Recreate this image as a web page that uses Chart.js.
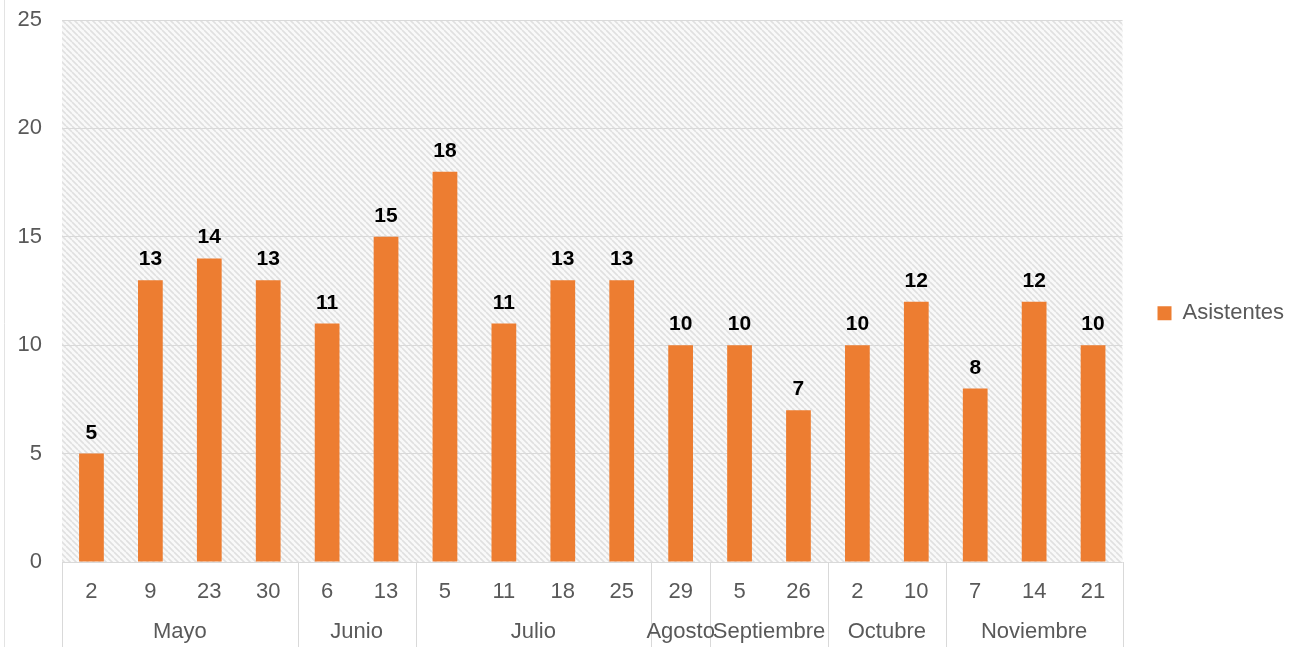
<!DOCTYPE html>
<html>
<head>
<meta charset="utf-8">
<script src="https://cdn.jsdelivr.net/npm/chart.js@4.4.1/dist/chart.umd.min.js"></script>
<style>
  html, body { margin: 0; padding: 0; background: #fff; }
</style>
</head>
<body>
<canvas id="chart" width="1301" height="647"></canvas>
<script>
const dias = ['2', '9', '23', '30', '6', '13', '5', '11', '18', '25', '29', '5', '26', '2', '10', '7', '14', '21'];
const asistentes = [5, 13, 14, 13, 11, 15, 18, 11, 13, 13, 10, 10, 7, 10, 12, 8, 12, 10];
const meses = ['Mayo', 'Junio', 'Julio', 'Agosto', 'Septiembre', 'Octubre', 'Noviembre'];
const semanasPorMes = [4, 2, 4, 1, 2, 2, 3];
const yMax = 25;
const yPaso = 5;

const fuente = '"Liberation Sans", Arial, sans-serif';
const gris = '#595959';
const linea = '#d9d9d9';

// fondo rayado del area del grafico
function rayado(ctx) {
    const c = document.createElement('canvas');
    c.width = 6; c.height = 6;
    const g = c.getContext('2d');
    g.fillStyle = '#f9f9f9';
    g.fillRect(0, 0, 6, 6);
    g.strokeStyle = '#e0e0e0';
    g.lineWidth = 1.6;
    for (const k of [-6, 0, 6]) {
        g.beginPath();
        g.moveTo(k, 0);
        g.lineTo(k + 6, 6);
        g.stroke();
    }
    return ctx.createPattern(c, 'repeat');
}

const fondo = {
    id: 'fondo',
    beforeDraw(chart) {
        const { ctx, chartArea: a } = chart;
        ctx.save();
        ctx.fillStyle = rayado(ctx);
        ctx.fillRect(a.left, a.top, a.right - a.left, a.bottom - a.top);
        // borde izquierdo de la captura
        ctx.strokeStyle = '#e3e3e3';
        ctx.lineWidth = 1;
        ctx.beginPath();
        ctx.moveTo(4.5, 0);
        ctx.lineTo(4.5, chart.height);
        ctx.stroke();
        ctx.restore();
    }
};

// numeros encima de las barras
const etiquetas = {
    id: 'etiquetas',
    afterDatasetsDraw(chart) {
        const ctx = chart.ctx;
        const meta = chart.getDatasetMeta(0);
        ctx.save();
        ctx.font = 'bold 21px ' + fuente;
        ctx.fillStyle = '#000';
        ctx.textAlign = 'center';
        ctx.textBaseline = 'alphabetic';
        meta.data.forEach((bar, i) => {
            ctx.fillText(asistentes[i], bar.x, bar.y - 15);
        });
        ctx.restore();
    }
};

// segundo nivel del eje x: meses y separadores
const ejeMeses = {
    id: 'ejeMeses',
    afterDraw(chart) {
        const { ctx, chartArea: a } = chart;
        const x = chart.scales.x;
        const abajo = chart.height;
        const bordes = [0];
        semanasPorMes.forEach(n => bordes.push(bordes[bordes.length - 1] + n));

        ctx.save();
        ctx.strokeStyle = linea;
        ctx.lineWidth = 1;
        ctx.beginPath();
        ctx.moveTo(a.left, a.bottom + 0.5);
        ctx.lineTo(a.right, a.bottom + 0.5);
        bordes.forEach(b => {
            const px = Math.round(x.getPixelForValue(b - 0.5)) + 0.5;
            ctx.moveTo(px, a.bottom);
            ctx.lineTo(px, abajo);
        });
        ctx.stroke();

        ctx.font = '22px ' + fuente;
        ctx.fillStyle = gris;
        ctx.textAlign = 'center';
        ctx.textBaseline = 'middle';
        meses.forEach((m, i) => {
            const x0 = x.getPixelForValue(bordes[i] - 0.5);
            const x1 = x.getPixelForValue(bordes[i + 1] - 0.5);
            ctx.fillText(m, (x0 + x1) / 2, 632);
        });
        ctx.restore();
    }
};

const ctx = document.getElementById('chart').getContext('2d');
new Chart(ctx, {
    type: 'bar',
    data: {
        labels: dias,
        datasets: [{
            label: 'Asistentes',
            data: asistentes,
            backgroundColor: '#ED7D31',
            categoryPercentage: 1,
            barPercentage: 0.42
        }]
    },
    options: {
        responsive: false,
        animation: false,
        layout: { padding: { top: 20, right: 7, left: 0, bottom: 0 } },
        plugins: {
            legend: {
                position: 'right',
                fullSize: false,
                title: { display: true, text: '', padding: 15, font: { size: 12 } },
                labels: {
                    boxWidth: 14,
                    boxHeight: 14,
                    padding: 35,
                    color: gris,
                    font: { size: 22, family: fuente }
                }
            },
            tooltip: { enabled: false }
        },
        scales: {
            x: {
                grid: { display: false },
                border: { display: false },
                ticks: {
                    color: gris,
                    font: { size: 22, family: fuente },
                    maxRotation: 0,
                    autoSkip: false,
                    padding: 9
                },
                afterFit(s) { s.height = 85; }
            },
            y: {
                min: 0,
                max: yMax,
                grid: { color: linea, drawTicks: false },
                border: { display: false },
                ticks: {
                    stepSize: yPaso,
                    color: gris,
                    font: { size: 22, family: fuente },
                    padding: 20
                },
                afterFit(s) {
                    s.width = 62;
                    s.paddingTop = 0;
                    s.paddingBottom = 0;
                }
            }
        }
    },
    plugins: [fondo, etiquetas, ejeMeses]
});
</script>
</body>
</html>
